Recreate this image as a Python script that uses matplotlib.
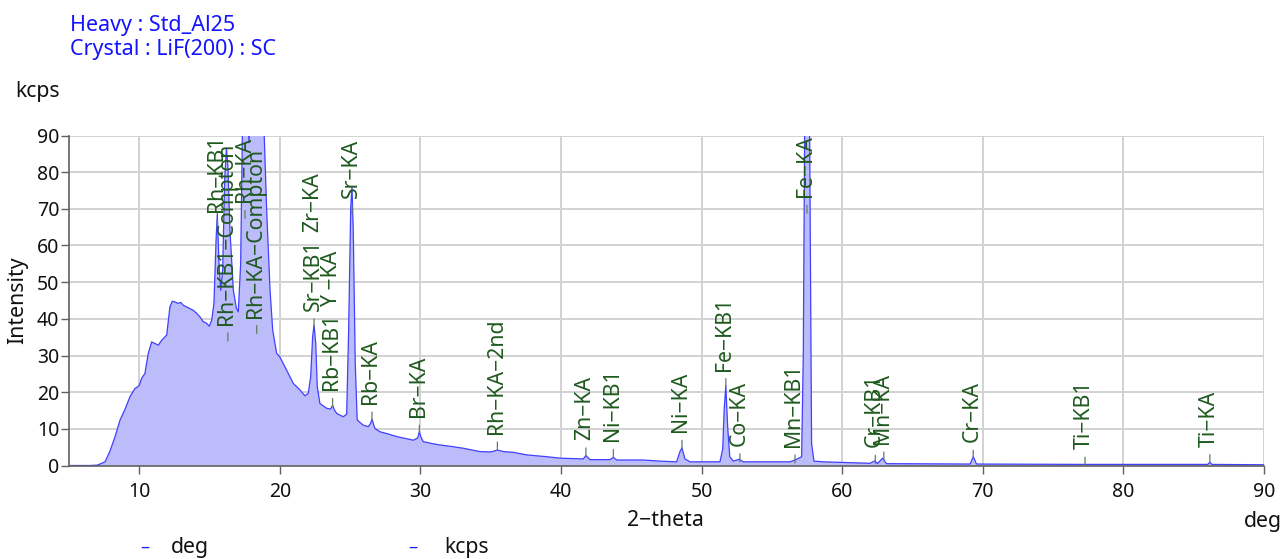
import matplotlib
matplotlib.use("Agg")
import matplotlib.pyplot as plt

plt.rcParams['font.family'] = ['Noto Sans', 'DejaVu Sans']

# ---- spectrum (2-theta [deg], intensity [kcps]) ----
two_theta = [5.0, 6.5, 7.0, 7.2, 7.56, 7.9, 8.27, 8.63, 8.98, 9.34, 9.69, 9.98,
             10.17, 10.4, 10.64, 10.88, 11.1, 11.35, 11.6, 11.95, 12.18, 12.35,
             12.54, 12.77, 12.95, 13.13, 13.6, 13.85, 14.08, 14.3, 14.55, 14.75,
             14.98, 15.15, 15.31, 15.46, 15.55, 15.67, 15.79, 15.93, 16.07, 16.2,
             16.3, 16.45, 16.69, 16.9, 17.04, 17.21, 17.35, 17.5, 17.65, 17.8,
             17.95, 18.2, 18.4, 18.6, 18.87, 19.06, 19.3, 19.49, 19.77, 20.0,
             20.48, 20.95, 21.43, 21.78, 22.02, 22.19, 22.33, 22.43, 22.55, 22.66,
             22.85, 23.33, 23.6, 23.75, 23.9, 24.04, 24.51, 24.75, 24.89, 25.04,
             25.13, 25.22, 25.36, 25.5, 25.93, 26.29, 26.45, 26.55, 26.76, 27.12,
             27.7, 28.3, 28.9, 29.49, 29.8, 29.92, 30.05, 30.2, 30.8, 31.39, 32.2,
             33.05, 34.23, 35.0, 35.49, 35.9, 36.6, 37.55, 38.98, 39.92, 40.8,
             41.58, 41.77, 42.06, 43.48, 43.72, 43.96, 45.85, 47.0, 48.22, 48.46,
             48.6, 48.81, 49.17, 50.0, 51.3, 51.5, 51.6, 51.72, 51.85, 52.0, 52.25,
             52.67, 52.96, 56.28, 56.7, 57.11, 57.23, 57.35, 57.5, 57.65, 57.82,
             57.99, 58.65, 61.97, 62.33, 62.5, 62.87, 63.15, 69.1, 69.32, 69.55,
             77.27, 86.0, 86.15, 86.3, 90.0]
kcps = [0.0, 0.0, 0.1, 0.4, 1.0, 3.8, 7.8, 12.4, 15.3, 18.8, 21.0, 21.7,
        23.8, 25.1, 30.6, 33.7, 33.3, 32.8, 34.2, 35.6, 43.3, 44.8,
        44.6, 44.2, 44.5, 43.7, 42.8, 42.3, 41.5, 40.6, 39.2, 38.9,
        38.0, 39.6, 44.2, 61.4, 68.7, 55.0, 47.8, 53.3, 77.8, 86.5,
        82.0, 64.0, 47.8, 43.0, 41.9, 55.0, 95.0, 140.0, 110.0, 88.0,
        100.0, 130.0, 140.0, 120.0, 92.0, 69.6, 47.8, 36.9, 30.6, 29.6,
        26.0, 22.4, 20.6, 19.0, 19.7, 24.2, 35.1, 38.3, 33.3, 21.5,
        16.9, 15.6, 15.4, 16.4, 15.0, 14.2, 13.3, 14.0, 36.9, 70.5,
        76.0, 64.0, 27.8, 12.4, 11.0, 10.6, 11.5, 12.6, 10.1, 9.2,
        8.6, 7.9, 7.4, 6.9, 7.5, 9.2, 7.6, 6.5, 6.0, 5.6, 5.2,
        4.7, 3.8, 3.7, 4.2, 3.8, 3.6, 2.9, 2.4, 2.0, 1.9,
        1.8, 2.7, 1.6, 1.6, 2.2, 1.5, 1.5, 1.2, 1.0, 3.8,
        4.8, 1.8, 1.0, 1.0, 1.0, 4.5, 15.0, 21.8, 10.6, 2.4, 1.2,
        1.7, 1.0, 1.0, 1.6, 2.4, 30.0, 110.0, 190.0, 110.0, 6.0,
        1.2, 1.0, 0.6, 1.3, 0.5, 2.0, 0.5, 0.4, 2.4, 0.4,
        0.3, 0.3, 0.9, 0.3, 0.2]

# ---- peak labels: text, 2-theta, base height (kcps), draw tick ----
peak_names = ["Rh\u2212KB1", "Rh\u2212KB1\u2212Compton", "Rh\u2212KA", "Rh\u2212KA\u2212Compton",
              "Sr\u2212KB1", "Zr\u2212KA", "Y \u2212KA", "Rb\u2212KB1", "Sr\u2212KA", "Rb\u2212KA",
              "Br\u2212KA", "Rh\u2212KA\u22122nd", "Zn\u2212KA", "Ni\u2212KB1", "Ni\u2212KA",
              "Fe\u2212KB1", "Co\u2212KA", "Mn\u2212KB1", "Fe\u2212KA", "Cr\u2212KB1",
              "Mn\u2212KA", "Cr\u2212KA", "Ti\u2212KB1", "Ti\u2212KA"]
peak_pos = [15.55, 16.3, 17.52, 18.35, 22.43, 22.43, 23.75, 23.75, 25.13, 26.55,
            29.92, 35.47, 41.77, 43.72, 48.6, 51.72, 52.72, 56.64, 57.49, 62.35,
            62.96, 69.32, 77.27, 86.15]
peak_base = [64.8, 34.0, 67.4, 36.0, 37.8, 59.2, 38.8, 16.1, 68.7, 12.4,
             8.8, 4.2, 2.6, 2.2, 4.7, 21.5, 1.0, 0.7, 68.8, 0.6,
             1.5, 2.0, 0.1, 0.8]
peak_tick = [True, True, True, True, True, False, False, True, True, True,
             True, True, True, True, True, True, True, True, True, True,
             True, True, True, True]

x_ticks = [10, 20, 30, 40, 50, 60, 70, 80, 90]
y_ticks = [0, 10, 20, 30, 40, 50, 60, 70, 80, 90]

W, H = 1282, 559
fig = plt.figure(figsize=(W / 100, H / 100), dpi=100)
L, R, T, B = 69, 1264, 135.5, 465.5
ax = fig.add_axes([L / W, 1 - B / H, (R - L) / W, (B - T) / H])

ax.fill_between(two_theta, kcps, 0, color="#bcbcfa", lw=0, zorder=2)
ax.plot(two_theta, kcps, color="#4040ff", lw=0.9, zorder=3)

ax.set_xlim(5, 90)
ax.set_ylim(0, 90)
ax.set_xticks(x_ticks)
ax.set_yticks(y_ticks)
ax.grid(True, color="#d2d2d2", lw=1.4, zorder=0)
ax.set_axisbelow(True)
for s in ("top", "right"):
    ax.spines[s].set_visible(False)
for s in ("left", "bottom"):
    ax.spines[s].set_color("#606060")
    ax.spines[s].set_linewidth(1.2)
    ax.spines[s].set_zorder(4)
ax.tick_params(axis="both", direction="out", length=6, width=1, color="#606060",
               labelsize=14, labelcolor="#111111")
ax.tick_params(axis="x", pad=6)
ax.tick_params(axis="y", pad=1)

green = "#1f5a1f"
for name, xp, yb, tk in zip(peak_names, peak_pos, peak_base, peak_tick):
    if tk:
        ax.annotate("", xy=(xp, yb), xytext=(0, 8), textcoords="offset pixels",
                    arrowprops=dict(arrowstyle="-", color="#5f7f5f", lw=0.9,
                                    shrinkA=0, shrinkB=0), zorder=5)
    ax.annotate(name, xy=(xp, yb), xytext=(-1, 16), textcoords="offset pixels",
                rotation=90, ha="center", va="bottom", fontsize=15.3,
                color=green, zorder=6, annotation_clip=False)

# header texts
fig.text(70 / W, 1 - 30.7 / H, "Heavy : Std_Al25", color="#1414ff", fontsize=15.5,
         ha="left", va="baseline")
fig.text(70 / W, 1 - 55 / H, "Crystal : LiF(200) : SC", color="#1414ff", fontsize=15.5,
         ha="left", va="baseline")
fig.text(15 / W, 1 - 91 / H, "kcps", color="#111111", fontsize=15.3, ha="left", va="center")
fig.text(18 / W, 1 - 300 / H, "Intensity", color="#111111", fontsize=15.3, rotation=90,
         ha="center", va="center")
fig.text(665 / W, 1 - 521 / H, "2\u2212theta", color="#111111", fontsize=15.3,
         ha="center", va="center")
fig.text(1282 / W, 1 - 521 / H, "deg", color="#111111", fontsize=15.3, ha="right", va="center")

# legend row
fig.text(145 / W, 1 - 548 / H, "\u2013", color="#2020ff", fontsize=13, ha="center", va="center")
fig.text(171 / W, 1 - 548 / H, "deg", color="#111111", fontsize=15.3, ha="left", va="center")
fig.text(413 / W, 1 - 548 / H, "\u2013", color="#2020ff", fontsize=13, ha="center", va="center")
fig.text(444 / W, 1 - 548 / H, "kcps", color="#111111", fontsize=15.3, ha="left", va="center")

fig.savefig("out.png", dpi=100)
